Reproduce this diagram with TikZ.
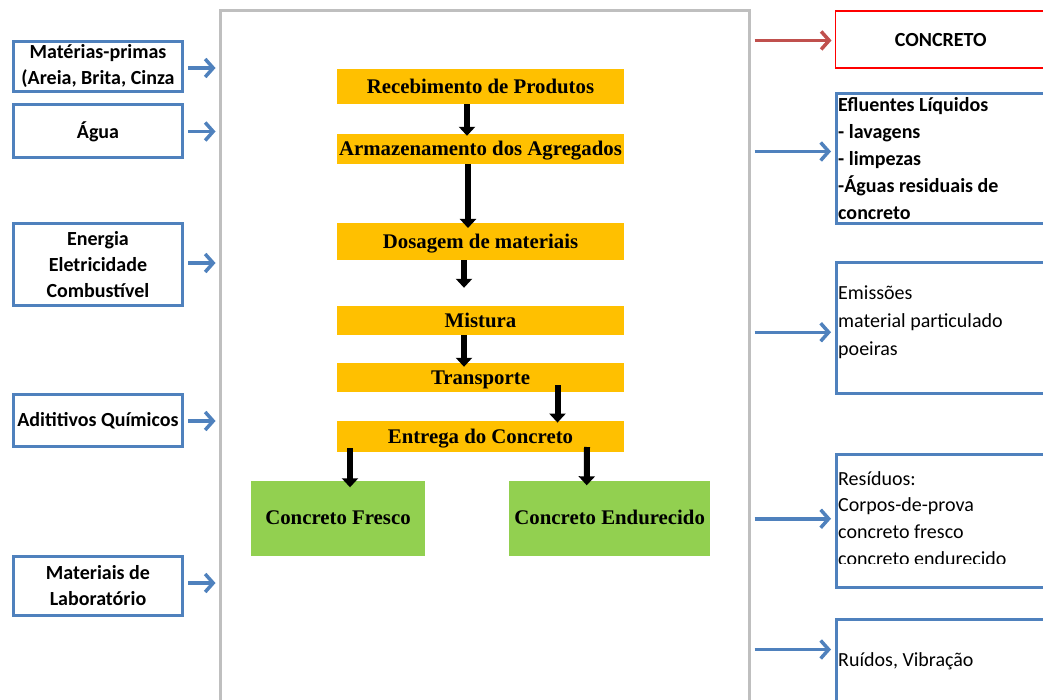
\documentclass[tikz,border=0pt]{standalone}
\usepackage{fontspec}
\setmainfont{Carlito}
\newfontfamily\stepfont{Liberation Serif}
\usetikzlibrary{arrows.meta,calc}
\definecolor{boxblue}{HTML}{4F81BD}
\definecolor{stepgold}{HTML}{FFC000}
\definecolor{stepgreen}{HTML}{92D050}
\definecolor{framegray}{HTML}{BFBFBF}
\definecolor{outred}{HTML}{C0504D}
\definecolor{boxred}{HTML}{FF0000}

\begin{document}
\begin{tikzpicture}[x=1pt,y=-1pt,
  inbox/.style={draw=boxblue, line width=3pt, fill=white, inner sep=0pt,
    align=center, font=\bfseries\fontsize{20}{26}\selectfont},
  outbox/.style={draw=boxblue, line width=3pt, inner sep=0pt, anchor=north west},
  outtext/.style={anchor=base west, inner sep=0pt, align=left,
    font=\fontsize{20}{27}\selectfont},
  stepbox/.style={fill=stepgold, inner sep=0pt, minimum width=287pt,
    text height=13.7pt, text depth=0pt,
    font=\stepfont\bfseries\fontsize{20.8}{24}\selectfont},
  prodbox/.style={fill=stepgreen, inner sep=0pt, minimum height=75pt,
    text height=13.7pt, text depth=0pt,
    font=\stepfont\bfseries\fontsize{20.8}{24}\selectfont},
  flow/.style={line width=6pt, -{Triangle[length=9pt,width=16pt]}},
  inarrow/.style={draw=boxblue, line width=3.5pt,
    -{Straight Barb[length=8pt,width=18pt]}},
  outarrow/.style={inarrow, draw=outred},
]
\useasboundingbox (0,0) rectangle (1043,700);
\clip (0,0) rectangle (1043,700);

% process frame
\node[draw=framegray, line width=3pt, inner sep=0pt, anchor=north west,
  minimum width=529pt, minimum height=720pt] (frame) at (218.5,9.5) {};

% inputs
\node[inbox, minimum width=169pt, minimum height=50pt] (raw) at (98,66.5)
  {Matérias-primas\\(Areia, Brita, Cinza};
\node[inbox, minimum width=169pt, minimum height=53pt] (agua) at (98,131.5) {Água};
\node[inbox, minimum width=169pt, minimum height=82pt] (ener) at (98,264.5)
  {Energia\\Eletricidade\\Combustível};
\node[inbox, minimum width=169pt, minimum height=52pt] (adit) at (98,420.5)
  {Adititivos Químicos};
\node[inbox, minimum width=169pt, minimum height=59pt] (lab) at (98,586)
  {Materiais de\\Laboratório};

% process steps
\node[stepbox, minimum height=35pt] (rec) at (480.5,86.7) {Recebimento de Produtos};
\node[stepbox, minimum height=30pt] (arm) at (480.5,149) {Armazenamento dos Agregados};
\node[stepbox, minimum height=37pt] (dos) at (480.5,241.7) {Dosagem de materiais};
\node[stepbox, minimum height=29pt] (mis) at (480.5,320.5) {Mistura};
\node[stepbox, minimum height=29pt] (tra) at (480.5,377.5) {Transporte};
\node[stepbox, minimum height=31pt] (ent) at (480.5,436.3) {Entrega do Concreto};
\node[prodbox, minimum width=174pt] (fre) at (338,518) {Concreto Fresco};
\node[prodbox, minimum width=201pt] (endu) at (609.7,518) {Concreto Endurecido};

% flow between steps
\draw[flow] ($(rec.south)+(-13.5,0)$) -- ($(arm.north)+(-13.5,2)$);
\draw[flow] ($(arm.south)+(-12.5,0)$) -- ($(dos.north)+(-12.5,5)$);
\draw[flow] ($(dos.south)+(-16.5,0)$) -- ($(mis.north)+(-16.5,-18)$);
\draw[flow] ($(mis.south)+(-16.5,0)$) -- ($(tra.north)+(-16.5,4)$);
\draw[flow] ($(tra.south)+(77,-7)$) -- ($(ent.north)+(77,2)$);
\draw[flow] ($(ent.south)+(-130.5,-4)$) -- ($(fre.north)+(12,7)$);
\draw[flow] ($(ent.south)+(106.5,-5)$) -- ($(endu.north)+(-23,5)$);

% outputs
\node[draw=boxred, line width=1.5pt, inner sep=0pt, anchor=north west,
  minimum width=211pt, minimum height=57pt, font=\bfseries\fontsize{20}{24}\selectfont]
  (conc) at (834.5,10.5) {CONCRETO};
\node[outbox, minimum width=240pt, minimum height=130pt] (efl) at (835,92.5) {};
\node[outbox, minimum width=240pt, minimum height=130.5pt] (emi) at (835,261.5) {};
\node[outbox, minimum width=240pt, minimum height=132.5pt] (res) at (835,453) {};
\node[outbox, minimum width=240pt, minimum height=110pt] (rui) at (835,618) {};

% output texts, placed by the baseline of their last line
\node[outtext, font=\bfseries\fontsize{20}{27}\selectfont] (eflt) at (838,219.7)
  {Efluentes Líquidos\\- lavagens\\- limpezas\\-Águas residuais de\\concreto};
\node[outtext, font=\fontsize{20}{28.3}\selectfont] (emit) at (838,355.9)
  {Emissões\\material particulado\\poeiras};
\begin{scope}
  \clip ($(res.north west)+(3,0)$) rectangle (1043,563);
  \node[outtext, font=\fontsize{20}{26.7}\selectfont] (rest) at (838,565.1)
    {Resíduos:\\Corpos-de-prova\\concreto fresco\\concreto endurecido};
\end{scope}
\node[outtext] (ruit) at (838,666.7) {Ruídos, Vibração};

% input arrows
\draw[inarrow] ($(raw.east)+(4,1.5)$) -- ($(raw.east -| frame.west)+(-3,1.5)$);
\draw[inarrow] ($(agua.east)+(4,0)$) -- ($(agua.east -| frame.west)+(-3,0)$);
\draw[inarrow] ($(ener.east)+(4,-1.5)$) -- ($(ener.east -| frame.west)+(-3,-1.5)$);
\draw[inarrow] ($(adit.east)+(4,0.5)$) -- ($(adit.east -| frame.west)+(-3,0.5)$);
\draw[inarrow] ($(lab.east)+(4,-3)$) -- ($(lab.east -| frame.west)+(-3,-3)$);

% output arrows
\draw[outarrow] ($(conc.west -| frame.east)+(4,0.7)$) -- ($(conc.west)+(-3,0.7)$);
\draw[inarrow] ($(efl.west -| frame.east)+(4,-7.5)$) -- ($(efl.west)+(-4,-7.5)$);
\draw[inarrow] ($(emi.west -| frame.east)+(4,4)$) -- ($(emi.west)+(-4,4)$);
\draw[inarrow] ($(res.west -| frame.east)+(4,-2)$) -- ($(res.west)+(-4,-2)$);
\draw[inarrow] ($(rui.west -| frame.east)+(4,-25)$) -- ($(rui.west)+(-4,-25)$);
\end{tikzpicture}
\end{document}
